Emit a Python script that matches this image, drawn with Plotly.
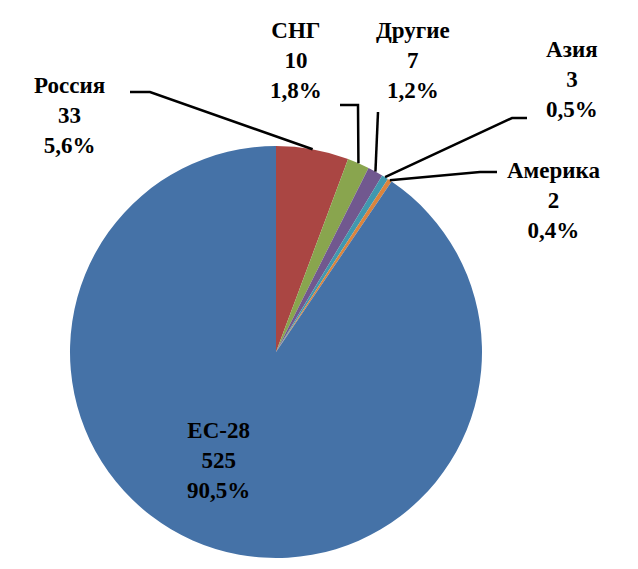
import plotly.graph_objects as go
import math

labels = ["Россия", "СНГ", "Другие", "Азия", "Америка", "ЕС-28"]
values = [33, 10, 7, 3, 2, 525]
pcts = ["5,6%", "1,8%", "1,2%", "0,5%", "0,4%", "90,5%"]
colors = ["#AA4643", "#89A54E", "#71588F", "#4198AF", "#DB843D", "#4572A7"]

W, H = 638, 569
OFF = 8  # page body offset
cx, cy, r = 276, 352, 206

def px(x):
    return (x - OFF) / W

def py(y):
    return 1 - (y - OFF) / H

fig = go.Figure(go.Pie(labels=labels, values=values, sort=False, direction="clockwise",
                       rotation=0, marker=dict(colors=colors, line=dict(color="white", width=0)),
                       textinfo="none", hoverinfo="label+value", showlegend=False,
                       domain=dict(x=[px(cx - r), px(cx + r)], y=[py(cy + r), py(cy - r)])))

total = sum(values)
edges = []
cum = 0
for v in values:
    th = 2 * math.pi * (cum + v / 2) / total
    edges.append((cx + r * math.sin(th), cy - r * math.cos(th)))
    cum += v

label_pos = [(70, 116), (296, 60), (413, 60), (572, 80), (553, 200), (218, 460)]
elbows = [((130, 92), (150, 92)), ((340, 105), (358, 105)), ((378, 112), (378, 112)),
          ((527, 118), (512, 118)), ((497, 172), (480, 172)), None]

font = dict(family="Liberation Serif", size=23, color="black")
for i, lab in enumerate(labels):
    x, y = label_pos[i]
    fig.add_annotation(x=px(x), y=py(y), xref="paper", yref="paper", showarrow=False,
                       xanchor="center", yanchor="middle",
                       text=f"<b>{lab}<br>{values[i]}<br>{pcts[i]}</b>", font=font, align="center")
    if elbows[i]:
        (x0, y0), (x1, y1) = elbows[i]
        ex, ey = edges[i]
        path = f"M {px(x0)} {py(y0)} L {px(x1)} {py(y1)} L {px(ex)} {py(ey)}"
        fig.add_shape(type="path", path=path, xref="paper", yref="paper",
                      line=dict(color="black", width=2.5))

fig.update_layout(width=W, height=H, margin=dict(l=0, r=0, t=0, b=0),
                  paper_bgcolor="white", plot_bgcolor="white")
fig.write_html("out.html")
